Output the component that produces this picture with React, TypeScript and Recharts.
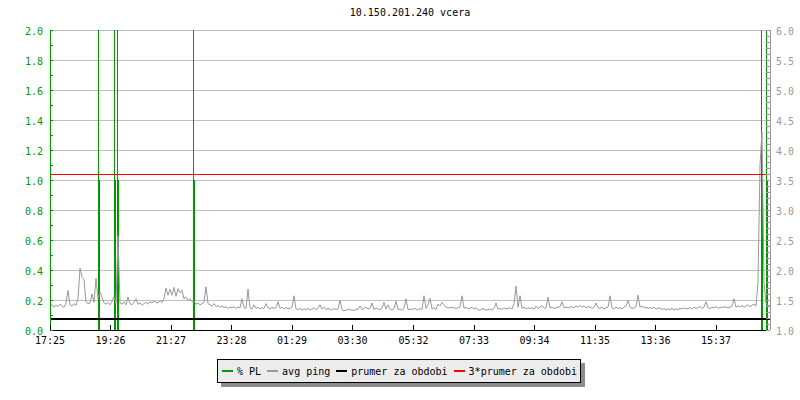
import { ComposedChart, Line, Bar, XAxis, YAxis, CartesianGrid, ReferenceLine } from "recharts";

const FONT = '"DejaVu Sans Mono", monospace';
const GREEN = "#009900";
const GRAY = "#999999";
const RED = "#ff0000";

const title = "10.150.201.240 vcera";

// minutes between ping samples, counted from 17:25
const SAMPLE_MIN = 4;

const pingValues = [
  1.40, 1.42, 1.38, 1.41, 1.39, 1.43, 1.40, 1.38, 1.45, 1.66, 1.42, 1.40, 1.44, 1.41, 1.52, 2.03, 1.88, 1.84, 1.47, 1.44,
  1.45, 1.60, 1.46, 1.86, 1.52, 1.63, 1.55, 1.45, 1.43, 1.46, 1.42, 1.48, 1.55, 1.44, 2.57, 1.45, 1.43, 1.47, 1.42, 1.55,
  1.44, 1.42, 1.46, 1.52, 1.43, 1.45, 1.41, 1.44, 1.46, 1.43, 1.47, 1.45, 1.48, 1.46, 1.45, 1.49, 1.46, 1.52, 1.70, 1.58,
  1.68, 1.58, 1.71, 1.56, 1.69, 1.62, 1.66, 1.52, 1.55, 1.49, 1.52, 1.47, 1.48, 1.43, 1.45, 1.42, 1.44, 1.46, 1.72, 1.44,
  1.42, 1.40, 1.44, 1.39, 1.41, 1.38, 1.40, 1.37, 1.39, 1.36, 1.38, 1.37, 1.39, 1.36, 1.38, 1.37, 1.52, 1.38, 1.36, 1.68,
  1.37, 1.35, 1.42, 1.36, 1.38, 1.35, 1.37, 1.36, 1.44, 1.37, 1.35, 1.38, 1.36, 1.37, 1.47, 1.36, 1.38, 1.35, 1.37, 1.36,
  1.36, 1.38, 1.57, 1.35, 1.34, 1.36, 1.33, 1.35, 1.34, 1.36, 1.33, 1.35, 1.37, 1.34, 1.36, 1.42, 1.35, 1.38, 1.34, 1.36,
  1.35, 1.33, 1.36, 1.34, 1.35, 1.50, 1.34, 1.32, 1.33, 1.35, 1.33, 1.34, 1.32, 1.35, 1.34, 1.40, 1.34, 1.36, 1.38, 1.35,
  1.36, 1.45, 1.34, 1.37, 1.35, 1.34, 1.36, 1.46, 1.35, 1.42, 1.35, 1.33, 1.36, 1.48, 1.34, 1.35, 1.33, 1.36, 1.52, 1.34,
  1.35, 1.34, 1.36, 1.35, 1.33, 1.36, 1.34, 1.57, 1.36, 1.42, 1.53, 1.35, 1.37, 1.34, 1.43, 1.40, 1.46, 1.42, 1.38, 1.37,
  1.37, 1.38, 1.37, 1.36, 1.37, 1.38, 1.57, 1.36, 1.38, 1.35, 1.36, 1.38, 1.35, 1.37, 1.34, 1.33, 1.36, 1.35, 1.33, 1.34,
  1.35, 1.33, 1.36, 1.45, 1.35, 1.36, 1.34, 1.37, 1.35, 1.36, 1.37, 1.35, 1.44, 1.73, 1.38, 1.57, 1.36, 1.38, 1.35, 1.37,
  1.36, 1.37, 1.35, 1.40, 1.36, 1.38, 1.41, 1.36, 1.37, 1.55, 1.37, 1.38, 1.36, 1.37, 1.38, 1.39, 1.47, 1.37, 1.38, 1.37,
  1.38, 1.39, 1.37, 1.40, 1.38, 1.41, 1.38, 1.40, 1.37, 1.39, 1.38, 1.36, 1.38, 1.45, 1.37, 1.36, 1.38, 1.35, 1.37, 1.38,
  1.57, 1.37, 1.35, 1.38, 1.36, 1.37, 1.35, 1.38, 1.40, 1.49, 1.38, 1.36, 1.37, 1.39, 1.58, 1.38, 1.40, 1.37, 1.38, 1.36,
  1.37, 1.36, 1.38, 1.35, 1.36, 1.37, 1.34, 1.36, 1.33, 1.35, 1.34, 1.36, 1.33, 1.35, 1.34, 1.36, 1.35, 1.37, 1.35, 1.36,
  1.37, 1.35, 1.38, 1.36, 1.37, 1.39, 1.36, 1.38, 1.47, 1.37, 1.36, 1.38, 1.37, 1.39, 1.36, 1.38, 1.37, 1.39, 1.38, 1.37,
  1.38, 1.40, 1.52, 1.38, 1.40, 1.39, 1.41, 1.38, 1.40, 1.42, 1.39, 1.41, 1.43, 1.40, 1.80, 3.75, 4.30, 1.78, 1.45, 1.40,
  1.42,
];

// packet loss events (minutes from 17:25), thick part and thin peak
const plTimes = [98, 130, 136, 288, 1424, 1434];
const plValues = [1, 1, 1, 1, 1, 1];
const plPeaks = [2, 2, 2, 2, 2, 2];

const avgPing = 1.19;
const tripleAvgPing = 3.6;

const xTickLabels = ["17:25", "19:26", "21:27", "23:28", "01:29", "03:30", "05:32", "07:33", "09:34", "11:35", "13:36", "15:37"];
const leftTickLabels = ["0.0", "0.2", "0.4", "0.6", "0.8", "1.0", "1.2", "1.4", "1.6", "1.8", "2.0"];
const rightTickLabels = ["1.0", "1.5", "2.0", "2.5", "3.0", "3.5", "4.0", "4.5", "5.0", "5.5", "6.0"];

const legendItems = [
  { name: "% PL", color: GREEN },
  { name: "avg ping", color: GRAY },
  { name: "prumer za obdobi", color: "#000000" },
  { name: "3*prumer za obdobi", color: RED },
];

const toMin = (s: string) => {
  const [h, m] = s.split(":").map(Number);
  return (h * 60 + m - (17 * 60 + 25) + 1440) % 1440;
};
const xTicks = xTickLabels.map(toMin);
const xLabelByMin = new Map(xTicks.map((t, i) => [t, xTickLabels[i]]));

const withMinor = (labels: string[], steps: number) => {
  const vals = labels.map(Number);
  const out: number[] = [];
  vals.forEach((v, i) => {
    out.push(v);
    if (i < vals.length - 1) {
      for (let k = 1; k < steps; k++) out.push(+(v + ((vals[i + 1] - v) * k) / steps).toFixed(3));
    }
  });
  return out;
};
const leftTicks = withMinor(leftTickLabels, 2);
const rightTicks = withMinor(rightTickLabels, 5);
const leftMajor = leftTickLabels.map(Number);
const rightMajor = rightTickLabels.map(Number);

const rows = new Map<number, any>();
pingValues.forEach((v, i) => rows.set(i * SAMPLE_MIN, { t: i * SAMPLE_MIN, ping: v, pl: 0, plTop: 0 }));
plTimes.forEach((t, i) => {
  rows.set(t, { ...(rows.get(t) ?? { t }), pl: plValues[i], plTop: plPeaks[i] });
});
const chartData = [...rows.values()].sort((a, b) => a.t - b.t);

const LeftTick = (props: any) => {
  const { x, y, payload } = props;
  const v = payload.value;
  const major = leftMajor.some((m) => Math.abs(m - v) < 1e-6);
  return (
    <g>
      <line x1={x + 7} x2={x + 10} y1={y} y2={y} stroke={GREEN} shapeRendering="crispEdges" />
      {major && (
        <text x={x} y={y + 5} textAnchor="end" fill={GREEN} fontSize={10} fontFamily={FONT}>
          {v.toFixed(1)}
        </text>
      )}
    </g>
  );
};

const RightTick = (props: any) => {
  const { x, y, payload } = props;
  const v = payload.value;
  const major = rightMajor.some((m) => Math.abs(m - v) < 1e-6);
  return (
    <g>
      <line x1={x - 10} x2={x - 6} y1={y} y2={y} stroke={GRAY} shapeRendering="crispEdges" />
      {major && (
        <text x={x} y={y + 5} textAnchor="start" fill={GRAY} fontSize={10} fontFamily={FONT}>
          {v.toFixed(1)}
        </text>
      )}
    </g>
  );
};

const TimeTick = (props: any) => {
  const { x, y, payload } = props;
  return (
    <g>
      <line x1={x} x2={x} y1={y - 5} y2={y} stroke="#000" shapeRendering="crispEdges" />
      <text x={x} y={y + 14} textAnchor="middle" fill="#000" fontSize={10} fontFamily={FONT}>
        {xLabelByMin.get(payload.value)}
      </text>
    </g>
  );
};

const PlShape = (props: any) => {
  const { x, y, width, height, payload } = props;
  if (!payload || !payload.plTop || !isFinite(y) || !isFinite(height)) return null;
  const cx = x + width / 2;
  const bottom = y + height;
  const thickTop = bottom - (height * payload.pl) / payload.plTop;
  return (
    <g shapeRendering="crispEdges">
      <rect x={cx - 1} y={thickTop} width={2} height={bottom - thickTop} fill={GREEN} />
      <rect x={Math.floor(cx)} y={y} width={1} height={height} fill={GREEN} />
    </g>
  );
};

export default function App() {
  return (
    <div style={{ position: "absolute", left: 0, top: 0, width: 800, height: 400, background: "#fff", fontFamily: FONT }}>
      <div
        style={{
          position: "absolute",
          left: 50,
          width: 720,
          top: 7,
          textAlign: "center",
          fontSize: 10,
          lineHeight: "12px",
          color: "#000",
        }}
      >
        {title}
      </div>
      <ComposedChart width={800} height={400} data={chartData} margin={{ top: 30, right: 0, bottom: 50, left: 0 }}>
        <CartesianGrid
          yAxisId="left"
          vertical={false}
          horizontalValues={leftMajor}
          stroke="#c0c0c0"
          strokeWidth={1}
          shapeRendering="crispEdges"
        />
        <XAxis
          dataKey="t"
          type="number"
          domain={[0, 1440]}
          ticks={xTicks}
          interval={0}
          tickSize={0}
          tickMargin={0}
          tickLine={false}
          tick={<TimeTick />}
          height={20}
          axisLine={{ stroke: "#000", shapeRendering: "crispEdges" }}
        />
        <YAxis
          yAxisId="left"
          orientation="left"
          domain={[0, 2]}
          allowDataOverflow
          ticks={leftTicks}
          interval={0}
          tickSize={0}
          tickMargin={7}
          tickLine={false}
          tick={<LeftTick />}
          width={50}
          axisLine={{ stroke: GREEN, shapeRendering: "crispEdges" }}
        />
        <YAxis
          yAxisId="right"
          orientation="right"
          domain={[1, 6]}
          allowDataOverflow
          ticks={rightTicks}
          interval={0}
          tickSize={0}
          tickMargin={6}
          tickLine={false}
          tick={<RightTick />}
          width={30}
          axisLine={{ stroke: GRAY, shapeRendering: "crispEdges" }}
        />
        <Line
          yAxisId="right"
          dataKey="ping"
          type="linear"
          stroke={GRAY}
          strokeWidth={1}
          dot={false}
          connectNulls
          isAnimationActive={false}
        />
        <ReferenceLine yAxisId="right" y={avgPing} stroke="#000" strokeWidth={2} shapeRendering="crispEdges" />
        <ReferenceLine yAxisId="right" y={tripleAvgPing} stroke={RED} strokeWidth={1} shapeRendering="crispEdges" />
        <Bar yAxisId="left" dataKey="plTop" barSize={2} shape={<PlShape />} isAnimationActive={false} />
      </ComposedChart>
      <div
        style={{
          position: "absolute",
          left: 217,
          top: 359,
          width: 364,
          height: 24,
          boxSizing: "border-box",
          border: "1px solid #000",
          background: "#ececec",
          boxShadow: "4px 4px 0 #8c8c8c",
          display: "flex",
          alignItems: "center",
          paddingLeft: 4,
          fontSize: 10,
          color: "#000",
          whiteSpace: "nowrap",
        }}
      >
        {legendItems.map((item) => (
          <div key={item.name} style={{ display: "flex", alignItems: "center", marginRight: 6 }}>
            <span style={{ display: "inline-block", width: 11, height: 2, background: item.color, marginRight: 4 }} />
            <span>{item.name}</span>
          </div>
        ))}
      </div>
    </div>
  );
}
